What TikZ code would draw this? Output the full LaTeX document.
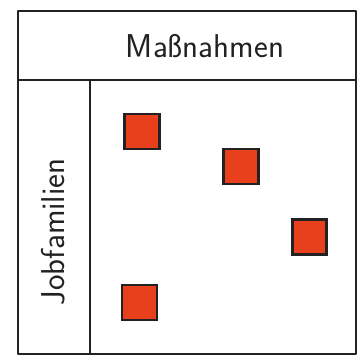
\documentclass[tikz,border=0pt]{standalone}
\usetikzlibrary{positioning}
\definecolor{inkblack}{HTML}{222222}
\definecolor{markred}{HTML}{E8401C}

\tikzset{
  frame/.style={draw=inkblack, line width=2.8pt, line join=round},
  marker/.style={draw=inkblack, fill=markred, line width=2.8pt,
    minimum width=35pt, minimum height=35pt, inner sep=0pt},
  label/.style={text=inkblack, font=\sffamily\fontsize{33}{36}\selectfont}
}

\begin{document}
\begin{tikzpicture}[x=1pt, y=-1pt]

% Background
\useasboundingbox (0,0) rectangle (359,359);
\fill[white] (0,0) rectangle (359,359);

% Outer frame with header strip
\draw[frame] (18,11) rectangle (356,354);
\draw[frame] (18,80) -- (356,80);
\draw[frame] (90,80) -- (90,354);

% Column and row titles
\node[label] (cols) at (205,46) {Maßnahmen};
\node[label, rotate=90] (rows) at (53,232) {Jobfamilien};

% Marked cells
\node[marker] (m1) at (142,131.5) {};
\node[marker] (m2) at (241,166.5) {};
\node[marker, minimum width=34pt] (m3) at (309.5,237) {};
\node[marker] (m4) at (139.5,302.5) {};

\end{tikzpicture}
\end{document}
